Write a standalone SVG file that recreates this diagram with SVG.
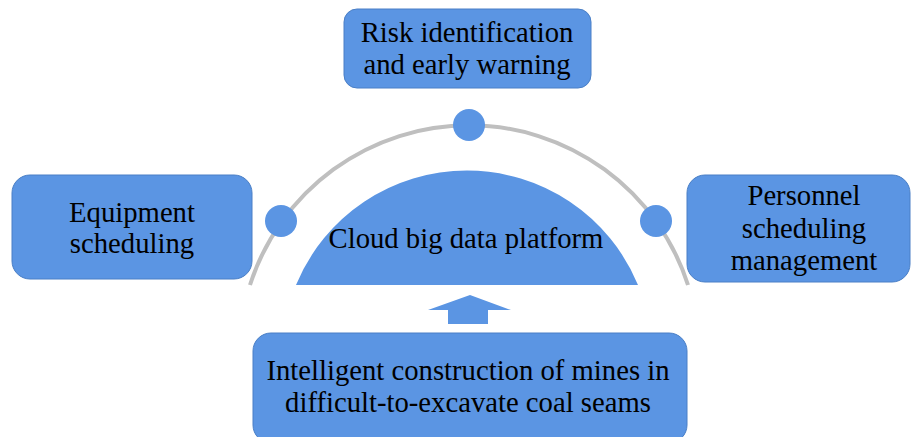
<svg xmlns="http://www.w3.org/2000/svg" width="912" height="437" viewBox="0 0 912 437">
<style>
.box{fill:#5B95E3;stroke:#4A7FC6;stroke-width:1}
.dot{fill:#5B95E3}
.t{font-family:"Liberation Serif","Times New Roman",serif;font-size:28.7px;fill:#000;text-anchor:middle}
</style>
<rect width="912" height="437" fill="#fff"/>
<g id="connectors">
<path d="M250,285 A230,230 0 0 1 688,285" fill="none" stroke="#BFBFBF" stroke-width="4"/>
<polygon points="470,295 511,310 488,310 488,324 448,324 448,310 428,310" fill="#5B95E3"/>
</g>
<g id="platform">
<path d="M296,285 A185,185 0 0 1 638,285 Z" fill="#5B95E3"/>
<text class="t" x="466" y="248">Cloud big data platform</text>
</g>
<g id="dot-top"><circle class="dot" cx="469" cy="125" r="16"/></g>
<g id="dot-left"><circle class="dot" cx="281" cy="221" r="16"/></g>
<g id="dot-right"><circle class="dot" cx="656" cy="221" r="16"/></g>
<g id="risk">
<rect class="box" x="344" y="9" width="247" height="79" rx="13"/>
<text class="t" x="467" y="42">Risk identification</text>
<text class="t" x="467" y="74">and early warning</text>
</g>
<g id="equipment">
<rect class="box" x="12" y="175" width="240" height="104" rx="18"/>
<text class="t" x="132" y="222">Equipment</text>
<text class="t" x="132" y="253">scheduling</text>
</g>
<g id="personnel">
<rect class="box" x="687" y="175" width="223" height="107" rx="18"/>
<text class="t" x="804" y="205">Personnel</text>
<text class="t" x="804" y="238">scheduling</text>
<text class="t" x="804" y="270">management</text>
</g>
<g id="mines">
<rect class="box" x="253" y="333" width="434" height="110" rx="18"/>
<text class="t" x="468" y="380">Intelligent construction of mines in</text>
<text class="t" x="468" y="412">difficult-to-excavate coal seams</text>
</g>
</svg>
